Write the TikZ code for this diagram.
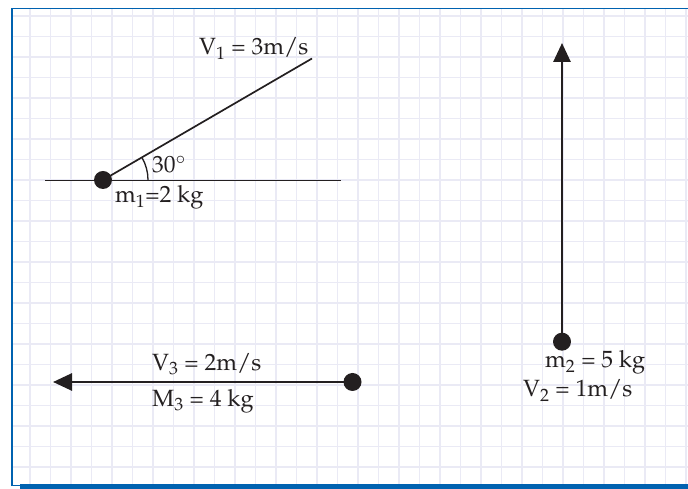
\documentclass[tikz,border=0pt]{standalone}
\usepackage[T1]{fontenc}
\usepackage{mathpazo}
\usetikzlibrary{arrows.meta}
\definecolor{gridlila}{RGB}{234,234,245}
\definecolor{vora}{RGB}{0,98,176}
\definecolor{tinta}{RGB}{35,31,32}

\begin{document}
\begin{tikzpicture}[
    x=1pt, y=1pt,
    >={Triangle[length=19pt,width=17pt]},
    massa/.style={circle, fill=tinta, inner sep=0pt, minimum size=18pt},
    etiqueta/.style={anchor=base west, inner sep=0pt, text=tinta, font=\fontsize{23.5}{27}\selectfont}
]

\useasboundingbox (0,0) rectangle (688,489);

% Quadrícula

\foreach \i in {0,...,32}
    \draw[gridlila, line width=1.6pt] (30+20.5*\i,4) -- (30+20.5*\i,480);
\foreach \j in {0,...,22}
    \draw[gridlila, line width=1.6pt] (13,473-20.5*\j) -- (688,473-20.5*\j);


% Marc

\draw[vora, line width=2.3pt] (12.2,3.5) -- (12.2,480.5);
\draw[vora, line width=1.5pt] (11,480.5) -- (688,480.5);
\fill[vora] (20,0) rectangle (688,4.5);
\draw[vora, line width=1.3pt] (11,3.5) -- (20,3.5);


% Cos 1

\coordinate (terraE) at (45,308.5);
\coordinate (terraD) at (341,308.5);
\coordinate (v1fi) at (312,430.5);

\draw[
    tinta,
    line width=1.3pt
] (terraE) -- (terraD);

\node[massa] (m1) at (103,309) {};

\draw[
    tinta,
    line width=1.7pt
] (m1.center) -- (v1fi);

\draw[
    tinta,
    line width=1.3pt
] ([shift={(0:45)}]m1.center) arc[start angle=0, end angle=30, radius=45];

\node[etiqueta] (v1txt) at (199,434) {V$_1$ = 3m/s};
\node[etiqueta] (angle) at (152,316) {30$^\circ$};
\node[etiqueta] (m1txt) at (115,286) {m$_1$=2 kg};


% Cos 2

\node[massa] (m2) at (562,147.3) {};
\coordinate (v2fi) at (562,446);

\draw[
    ->,
    tinta,
    line width=2.7pt
] (m2.center) -- (v2fi);

\node[etiqueta] (m2txt) at (545,121) {m$_2$ = 5 kg};
\node[etiqueta] (v2txt) at (523,92) {V$_2$ = 1m/s};


% Cos 3

\node[massa] (m3) at (352.5,107) {};
\coordinate (v3fi) at (53,107);

\draw[
    ->,
    tinta,
    line width=2.7pt
] (m3.center) -- (v3fi);

\node[etiqueta] (v3txt) at (152,118.3) {V$_3$ = 2m/s};
\node[etiqueta] (m3txt) at (152,82.3) {M$_3$ = 4 kg};

\end{tikzpicture}
\end{document}
